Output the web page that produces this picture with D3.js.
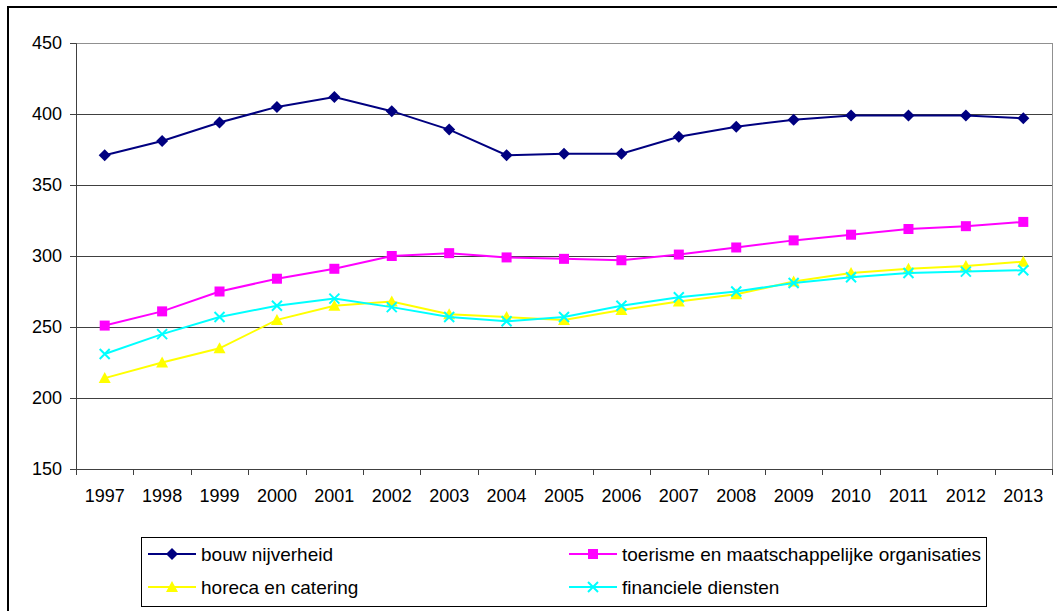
<!DOCTYPE html>
<html><head><meta charset="utf-8">
<script src="https://cdn.jsdelivr.net/npm/d3@7"></script>
<style>body{margin:0;background:#fff}svg{display:block}text{font-family:"Liberation Sans",Arial,sans-serif}</style>
</head><body>
<svg id="c" width="1057" height="611"></svg>
<script>
const years = ["1997","1998","1999","2000","2001","2002","2003","2004","2005","2006","2007","2008","2009","2010","2011","2012","2013"];
const bouw = [371,381,394,405,412,402,389,371,372,372,384,391,396,399,399,399,397];
const toerisme = [251,261,275,284,291,300,302,299,298,297,301,306,311,315,319,321,324];
const horeca = [214,225,235,255,265,268,259,257,255,262,268,273,282,288,291,293,296];
const financ = [231,245,257,265,270,264,257,254,257,265,271,275,281,285,288,289,290];
const yTicks = [150,200,250,300,350,400,450];
const seriesNames = ["bouw nijverheid","toerisme en maatschappelijke organisaties","horeca en catering","financiele diensten"];
const colors = ["#000080","#FF00FF","#FFFF00","#00FFFF"];
const markers = ["diamond","square","triangle","x"];
const seriesData = [bouw, toerisme, horeca, financ];

const svg = d3.select("#c");
const L=76, R=1052, T=43, B=469;
const x = d3.scaleBand().domain(years).range([L,R]);
const y = d3.scaleLinear().domain([150,450]).range([B,T]);

// outer frame
svg.append("rect").attr("x",8).attr("y",7).attr("width",1070).attr("height",640)
  .attr("fill","none").attr("stroke","#000").attr("stroke-width",2);

// gridlines
svg.append("g").selectAll("line").data(yTicks.filter(d=>d>150)).join("line")
  .attr("x1",L).attr("x2",R).attr("y1",d=>y(d)+0.5).attr("y2",d=>y(d)+0.5)
  .attr("stroke",d=>d===450?"#909090":"#404040").attr("stroke-width",1);
// right border
svg.append("line").attr("x1",R+0.5).attr("x2",R+0.5).attr("y1",T).attr("y2",B).attr("stroke","#909090");

// y axis
const ya = svg.append("g").attr("transform",`translate(${L},0)`)
  .call(d3.axisLeft(y).tickValues(yTicks).tickSize(6).tickPadding(8));
ya.select(".domain").attr("stroke","#404040");
ya.selectAll(".tick line").attr("stroke","#404040");
ya.selectAll("text").attr("font-size",18).attr("fill","#000").attr("font-family","Liberation Sans, Arial, sans-serif");

// x axis
const xa = svg.append("g").attr("transform",`translate(0,${B})`)
  .call(d3.axisBottom(x).tickSize(0).tickPadding(20));
xa.select(".domain").attr("stroke","#404040");
xa.selectAll("text").attr("font-size",18).attr("fill","#000").attr("font-family","Liberation Sans, Arial, sans-serif");
// tick marks at category boundaries
const bounds = years.map(d=>x(d)).concat([R]);
svg.append("g").selectAll("line").data(bounds).join("line")
  .attr("x1",d=>Math.round(d)+0.5).attr("x2",d=>Math.round(d)+0.5).attr("y1",B).attr("y2",B+6)
  .attr("stroke","#404040");

const cx = d=>x(d)+x.bandwidth()/2;

function drawMarker(g, type, color, px, py, s){
  if(type==="diamond"){
    g.append("path").attr("d",`M${px},${py-s}L${px+s},${py}L${px},${py+s}L${px-s},${py}Z`).attr("fill",color);
  } else if(type==="square"){
    g.append("rect").attr("x",px-5).attr("y",py-5).attr("width",10).attr("height",10).attr("fill",color);
  } else if(type==="triangle"){
    g.append("path").attr("d",`M${px},${py-6}L${px+6},${py+5}L${px-6},${py+5}Z`).attr("fill",color);
  } else {
    g.append("path").attr("d",`M${px-5},${py-5}L${px+5},${py+5}M${px-5},${py+5}L${px+5},${py-5}`)
      .attr("stroke",color).attr("stroke-width",2).attr("fill","none");
  }
}

const line = d3.line().x((d,i)=>cx(years[i])).y(d=>y(d));
seriesData.forEach((data,si)=>{
  const g = svg.append("g");
  g.append("path").datum(data).attr("d",line).attr("fill","none").attr("stroke",colors[si]).attr("stroke-width",2);
  data.forEach((v,i)=>drawMarker(g, markers[si], colors[si], cx(years[i]), y(v), 6));
});

// legend
const lg = svg.append("g");
lg.append("rect").attr("x",141.5).attr("y",537.5).attr("width",845).attr("height",69)
  .attr("fill","#fff").attr("stroke","#000").attr("stroke-width",1);
const legPos = [[148,554],[569,554],[148,587],[569,587]];
seriesNames.forEach((name,si)=>{
  const [lx,ly] = legPos[si];
  lg.append("line").attr("x1",lx).attr("x2",lx+48).attr("y1",ly).attr("y2",ly).attr("stroke",colors[si]).attr("stroke-width",2);
  drawMarker(lg, markers[si], colors[si], lx+24, ly, 6);
  lg.append("text").attr("x",lx+53).attr("y",ly+7).attr("font-size",19).attr("fill","#000").text(name);
});
</script>
</body></html>
